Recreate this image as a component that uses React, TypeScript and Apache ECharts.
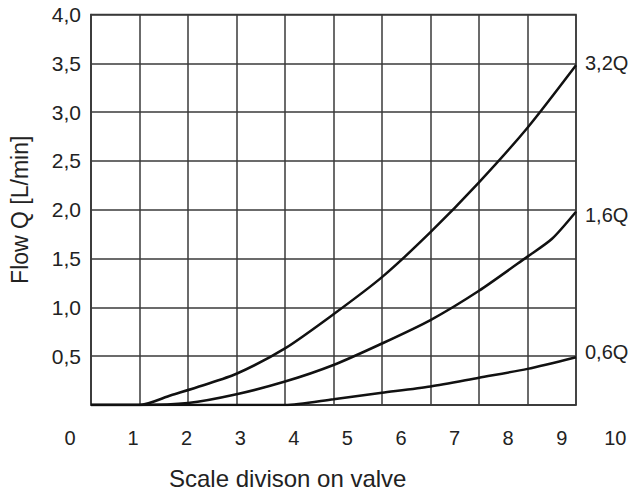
import React, { useEffect, useRef } from "react";
import * as echarts from "echarts";

const xTicks = [0, 1, 2, 3, 4, 5, 6, 7, 8, 9, 10];
const yTicks = [0, 0.5, 1, 1.5, 2, 2.5, 3, 3.5, 4];
const seriesNames = ["3,2Q", "1,6Q", "0,6Q"];
const curve32Q: [number, number][] = [
  [0, 0], [1, 0], [1.65, 0.1], [2.3, 0.2], [3, 0.32], [4, 0.58], [5, 0.93],
  [6, 1.31], [7, 1.77], [8, 2.28], [9, 2.84], [10, 3.48],
];
const curve16Q: [number, number][] = [
  [0, 0], [1, 0], [2, 0.02], [3, 0.11], [4, 0.24], [5, 0.41], [6, 0.63],
  [7, 0.87], [8, 1.17], [9, 1.52], [9.5, 1.7], [10, 1.98],
];
const curve06Q: [number, number][] = [
  [0, 0], [4, 0], [5, 0.06], [6, 0.125], [7, 0.19], [8, 0.28], [9, 0.37],
  [10, 0.49],
];
const xTitle = "Scale divison on valve";
const yTitle = "Flow Q [L/min]";

const FONT = "'Liberation Sans', Arial, sans-serif";
const GRID_COLOR = "#3a3a3a";
const TEXT_COLOR = "#222";

export default function App() {
  const ref = useRef<HTMLDivElement>(null);
  useEffect(() => {
    if (!ref.current) return;
    const chart = echarts.init(ref.current, undefined, { renderer: "svg" });
    const curves = [curve32Q, curve16Q, curve06Q];
    const labelOffsets = [[0, -2], [0, 3], [0, -5]];
    chart.setOption({
      animation: false,
      backgroundColor: "#fff",
      textStyle: { fontFamily: FONT },
      grid: [
        {
          left: 86.5, right: 56, top: 14.5, bottom: 88,
          show: true, borderColor: GRID_COLOR, borderWidth: 1.5,
        },
        { left: 79.5, right: 16.7, top: 14.5, bottom: 88 },
      ],
      xAxis: [
        {
          type: "value", gridIndex: 0, min: xTicks[0], max: xTicks[xTicks.length - 1], interval: 1,
          axisLine: { show: true, lineStyle: { color: GRID_COLOR, width: 1.5 } },
          axisTick: { show: false },
          axisLabel: { show: false },
          splitLine: { show: true, lineStyle: { color: GRID_COLOR, width: 1.5 } },
        },
        {
          type: "value", gridIndex: 1, min: xTicks[0], max: xTicks[xTicks.length - 1], interval: 1,
          axisLine: { show: false }, axisTick: { show: false }, splitLine: { show: false },
          axisLabel: {
            show: true, margin: 23, fontSize: 20, color: TEXT_COLOR, fontFamily: FONT,
            formatter: (v: number) => (v === 0 ? "{z|0}" : String(v)),
            rich: { z: { fontSize: 20, color: TEXT_COLOR, fontFamily: FONT, padding: [0, 19, 0, 0] } },
          },
        },
      ],
      yAxis: [
        {
          type: "value", gridIndex: 0, min: yTicks[0], max: yTicks[yTicks.length - 1], interval: 0.5,
          axisLine: { show: true, lineStyle: { color: GRID_COLOR, width: 1.5 } },
          axisTick: { show: false },
          splitLine: { show: true, lineStyle: { color: GRID_COLOR, width: 1.5 } },
          axisLabel: {
            show: true, margin: 10, fontSize: 21, color: TEXT_COLOR, fontFamily: FONT,
            formatter: (v: number) => (v === 0 ? "" : v.toFixed(1).replace(".", ",")),
          },
          name: yTitle, nameLocation: "middle", nameRotate: 90, nameGap: 60,
          nameTextStyle: { fontSize: 23, color: TEXT_COLOR, fontFamily: FONT },
        },
        {
          type: "value", gridIndex: 1, min: 0, max: 4, show: false,
        },
      ],
      graphic: [
        {
          type: "text", left: 169, top: 466,
          style: { text: xTitle, fontSize: 24, fill: TEXT_COLOR, fontFamily: FONT },
        },
      ],
      series: curves.map((d, i) => ({
        type: "line", name: seriesNames[i], xAxisIndex: 0, yAxisIndex: 0,
        data: d, showSymbol: false, smooth: 0.25,
        lineStyle: { color: "#111", width: 2.5 },
        endLabel: {
          show: true, formatter: "{a}", distance: 9, offset: labelOffsets[i],
          fontSize: 20, color: TEXT_COLOR, fontFamily: FONT,
        },
        z: 3,
      })),
    });
    return () => chart.dispose();
  }, []);
  return <div ref={ref} style={{ position: "absolute", left: 0, top: 0, width: 632, height: 493 }} />;
}
